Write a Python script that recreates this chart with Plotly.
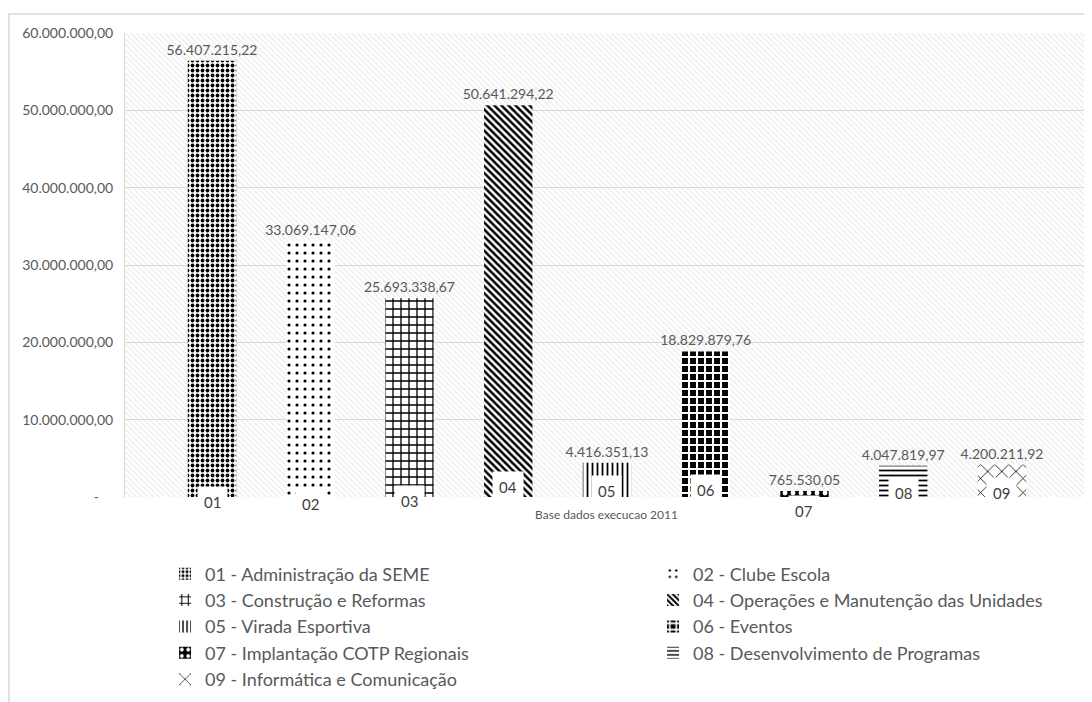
import plotly.graph_objects as go

# Data
codes = ["01", "02", "03", "04", "05", "06", "07", "08", "09"]
names = [
    "01 - Administração da SEME",
    "02 - Clube Escola",
    "03 - Construção e Reformas",
    "04 - Operações e Manutenção das Unidades",
    "05 - Virada Esportiva",
    "06 - Eventos",
    "07 - Implantação COTP Regionais",
    "08 - Desenvolvimento de Programas",
    "09 - Informática e Comunicação",
]
values = [
    56407215.22, 33069147.06, 25693338.67, 50641294.22, 4416351.13,
    18829879.76, 765530.05, 4047819.97, 4200211.92,
]
y_ticks = [0, 10000000, 20000000, 30000000, 40000000, 50000000, 60000000]
x_title = "Base dados execucao 2011"


def fmt_br(v):
    s = f"{v:,.2f}"
    return s.replace(",", "X").replace(".", ",").replace("X", ".")


tick_text = ["-" + "\u00a0" * 4 if v == 0 else fmt_br(v) for v in y_ticks]

# Visual configurations
font_family = "Lato, 'Open Sans', sans-serif"
text_grey = "#595959"
grid_grey = "#d9d9d9"

# pattern per category: (shape, fg, bg, size, solidity)
patterns = [
    (".", "black", "white", 5, 0.45),
    (".", "black", "white", 8, 0.12),
    ("+", "black", "white", 8, 0.3),
    ("\\", "black", "white", 5, 0.5),
    ("|", "black", "white", 5, 0.35),
    ("+", "white", "black", 8, 0.45),
    (".", "white", "black", 8, 0.3),
    ("-", "black", "white", 5, 0.35),
    ("x", "black", "white", 10, 0.15),
]
# vertical shift (px) of the category label boxes near the bar bases
label_shift = [-5, -7, -4, 10, 6, 7, -14, 4, 4]

fig = go.Figure()

# Hatched plot background (main axes, drawn below the bars)
fig.add_trace(go.Bar(
    x=[0.5], y=[y_ticks[-1]], width=[1], xaxis="x", yaxis="y",
    marker=dict(color="rgba(0,0,0,0)", line=dict(width=0),
                pattern=dict(shape="\\", fgcolor="#d6d6d6", bgcolor="rgba(0,0,0,0)",
                             size=4, solidity=0.3)),
    showlegend=False, hoverinfo="skip",
))

for code, name, val, pat in zip(codes, names, values, patterns):
    shape, fg, bg, size, sol = pat
    fig.add_trace(go.Bar(
        x=[code], y=[val], name=name, xaxis="x2", yaxis="y", width=0.49,
        marker=dict(color=bg, line=dict(width=0),
                    pattern=dict(shape=shape, fgcolor=fg, bgcolor=bg, size=size,
                                 solidity=sol, fillmode="replace")),
        text=[fmt_br(val)], textposition="outside", cliponaxis=False,
        constraintext="none",
        textfont=dict(family=font_family, size=14, color=text_grey),
        hovertemplate="%{x}: %{text}<extra></extra>",
    ))

annotations = [
    dict(x=i, y=0, xref="x2", yref="y", text=code, showarrow=False,
         yanchor="middle", yshift=shift, bgcolor="white", borderpad=6,
         font=dict(family=font_family, size=15, color="#404040"))
    for i, (code, shift) in enumerate(zip(codes, label_shift))
]

# page body adds an 8px offset, so the figure is drawn 8px smaller
fig.update_layout(
    width=1084, height=694,
    paper_bgcolor="white", plot_bgcolor="white",
    barmode="overlay",
    margin=dict(l=117, r=4, t=25, b=205, autoexpand=False),
    font=dict(family=font_family, color=text_grey),
    xaxis=dict(range=[0, 1], visible=False, fixedrange=True),
    xaxis2=dict(type="category", overlaying="x", range=[-0.881, 8.871],
                showticklabels=False, showgrid=False, zeroline=False,
                showline=False, automargin=False,
                title=dict(text=x_title, standoff=13,
                           font=dict(family=font_family, size=12, color=text_grey))),
    yaxis=dict(range=[0, y_ticks[-1]], tickvals=y_ticks, ticktext=tick_text,
               showgrid=True, gridcolor=grid_grey, gridwidth=1, zeroline=False,
               showline=True, linecolor=grid_grey, mirror=True, automargin=False,
               ticklabelstandoff=8,
               tickfont=dict(family=font_family, size=14, color=text_grey)),
    legend=dict(orientation="h", x=-0.001, xanchor="left", y=-0.126, yanchor="top",
                entrywidth=402, entrywidthmode="pixels", itemwidth=30,
                indentation=41,
                font=dict(family=font_family, size=18, color=text_grey),
                tracegroupgap=0),
    annotations=annotations,
    shapes=[dict(type="rect", xref="paper", yref="paper", x0=-0.1205, x1=1.01,
                 y0=-0.45, y1=1.041, line=dict(color=grid_grey, width=1.5),
                 fillcolor="rgba(0,0,0,0)", layer="below")],
    showlegend=True,
)

fig.write_html("out.html")
